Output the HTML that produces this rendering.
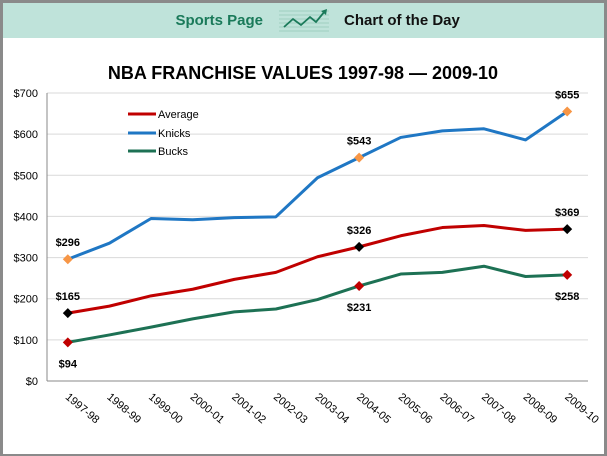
<!DOCTYPE html>
<html><head><meta charset="utf-8"><style>
html,body{margin:0;padding:0;background:#fff;}
#wrap{position:relative;width:607px;height:456px;overflow:hidden;font-family:"Liberation Sans",sans-serif;}
svg text{font-family:"Liberation Sans",sans-serif;}
</style></head><body>
<div id="wrap">
<svg id="chart" width="607" height="456" viewBox="0 0 607 456">
  <rect x="0" y="0" width="607" height="456" fill="#8a8a8a"/>
  <rect x="3" y="3" width="601" height="451" fill="#ffffff"/>
  <rect x="3" y="3" width="601" height="35" fill="#bfe3da"/>
  <text x="263" y="25" font-size="15" font-weight="bold" fill="#1a7a5a" text-anchor="end">Sports Page</text>
  <g stroke="#9fcfc0" stroke-width="1">
    <line x1="279" y1="11" x2="329" y2="11"/><line x1="279" y1="15" x2="329" y2="15"/>
    <line x1="279" y1="19" x2="329" y2="19"/><line x1="279" y1="23" x2="329" y2="23"/>
    <line x1="279" y1="27" x2="329" y2="27"/><line x1="279" y1="31" x2="329" y2="31"/>
    <polyline points="284,27 293,19 301,25 310,17 316,22 325,11" fill="none" stroke="#1a7a5a" stroke-width="1.8"/>
    <polygon points="327,9 321,11 326,15" fill="#1a7a5a" stroke="none"/>
  </g>
  <text x="344" y="25" font-size="15" font-weight="bold" fill="#111">Chart of the Day</text>
  <text x="303" y="79" font-size="18" font-weight="bold" fill="#000" text-anchor="middle">NBA FRANCHISE VALUES 1997-98 — 2009-10</text>
  <g id="grid"></g>
  <g id="axes"></g>
  <g id="series"></g>
  <g id="labels"></g>
  <g>
    <line x1="128" y1="114" x2="156" y2="114" stroke="#c00000" stroke-width="3"/>
    <text x="158" y="118" font-size="11" fill="#000">Average</text>
    <line x1="128" y1="133" x2="156" y2="133" stroke="#1f77c4" stroke-width="3"/>
    <text x="158" y="137" font-size="11" fill="#000">Knicks</text>
    <line x1="128" y1="151" x2="156" y2="151" stroke="#1d7154" stroke-width="3"/>
    <text x="158" y="155" font-size="11" fill="#000">Bucks</text>
  </g>
</svg>
</div>
<script>
const categories = ["1997-98","1998-99","1999-00","2000-01","2001-02","2002-03","2003-04","2004-05","2005-06","2006-07","2007-08","2008-09","2009-10"];
const knicks = [296,335,395,392,397,399,494,543,592,608,613,586,655];
const average = [165,182,207,223,247,264,302,326,353,373,378,366,369];
const bucks = [94,112,131,151,168,175,198,231,260,264,279,254,258];
const yTicks = [0,100,200,300,400,500,600,700];
const yTickLabels = ["$0","$100","$200","$300","$400","$500","$600","$700"];

const NS = "http://www.w3.org/2000/svg";
const L = 47, R = 588, T = 93, B = 381, YMAX = 700;
const band = (R - L) / categories.length;
function xPos(i){ return L + band * (i + 0.5); }
function yPos(v){ return B - (v / YMAX) * (B - T); }
function mk(tag, attrs, parent){ const e = document.createElementNS(NS, tag); for (const k in attrs) e.setAttribute(k, attrs[k]); parent.appendChild(e); return e; }

const grid = document.getElementById('grid');
const axes = document.getElementById('axes');
yTicks.forEach((v, i) => {
  const y = yPos(v);
  if (v > 0) {
    const gl = mk('line', {x1: L, x2: R, y1: y, y2: y, stroke: '#d9d9d9', 'stroke-width': 1}, grid);
    
    
  }
  const t = mk('text', {x: 38, y: y + 4, 'font-size': 11, 'text-anchor': 'end', fill: '#000'}, axes);
  t.textContent = yTickLabels[i];
  
  
});
const ya = mk('line', {x1: L, x2: L, y1: T, y2: B, stroke: '#888', 'stroke-width': 1}, axes);


const xa = mk('line', {x1: L, x2: R, y1: B, y2: B, stroke: '#888', 'stroke-width': 1}, axes);


categories.forEach((c, i) => {
  const x = xPos(i) - 3, y = 398;
  const t = mk('text', {x: x, y: y, 'font-size': 11, fill: '#000', transform: `rotate(40 ${x} ${y})`}, axes);
  t.textContent = c;
  
  
});

const series = document.getElementById('series');
function drawLine(vals, color, name){
  const pts = vals.map((v, i) => xPos(i) + ',' + yPos(v)).join(' ');
  const p = mk('polyline', {points: pts, fill: 'none', stroke: color, 'stroke-width': 3, 'stroke-linejoin': 'round'}, series);
  
  
}
drawLine(knicks, '#1f77c4', 'knicks-line');
drawLine(average, '#c00000', 'average-line');
drawLine(bucks, '#1d7154', 'bucks-line');

const labels = document.getElementById('labels');
function marker(vals, i, color, name, dy){
  const x = xPos(i), y = yPos(vals[i]);
  const d = mk('polygon', {points: `${x},${y-5} ${x+5},${y} ${x},${y+5} ${x-5},${y}`, fill: color}, labels);
  
  
  const t = mk('text', {x: x, y: y + dy, 'font-size': 11, 'font-weight': 'bold', 'text-anchor': 'middle', fill: '#000'}, labels);
  t.textContent = '$' + vals[i];
  
  
}
const last = categories.length - 1;
marker(knicks, 0, '#f79646', 'knicks-first', -13);
marker(knicks, 7, '#f79646', 'knicks-mid', -13);
marker(knicks, last, '#f79646', 'knicks-last', -13);
marker(average, 0, '#000', 'average-first', -13);
marker(average, 7, '#000', 'average-mid', -13);
marker(average, last, '#000', 'average-last', -13);
marker(bucks, 0, '#c00000', 'bucks-first', 25);
marker(bucks, 7, '#c00000', 'bucks-mid', 25);
marker(bucks, last, '#c00000', 'bucks-last', 25);
</script>
</body></html>
